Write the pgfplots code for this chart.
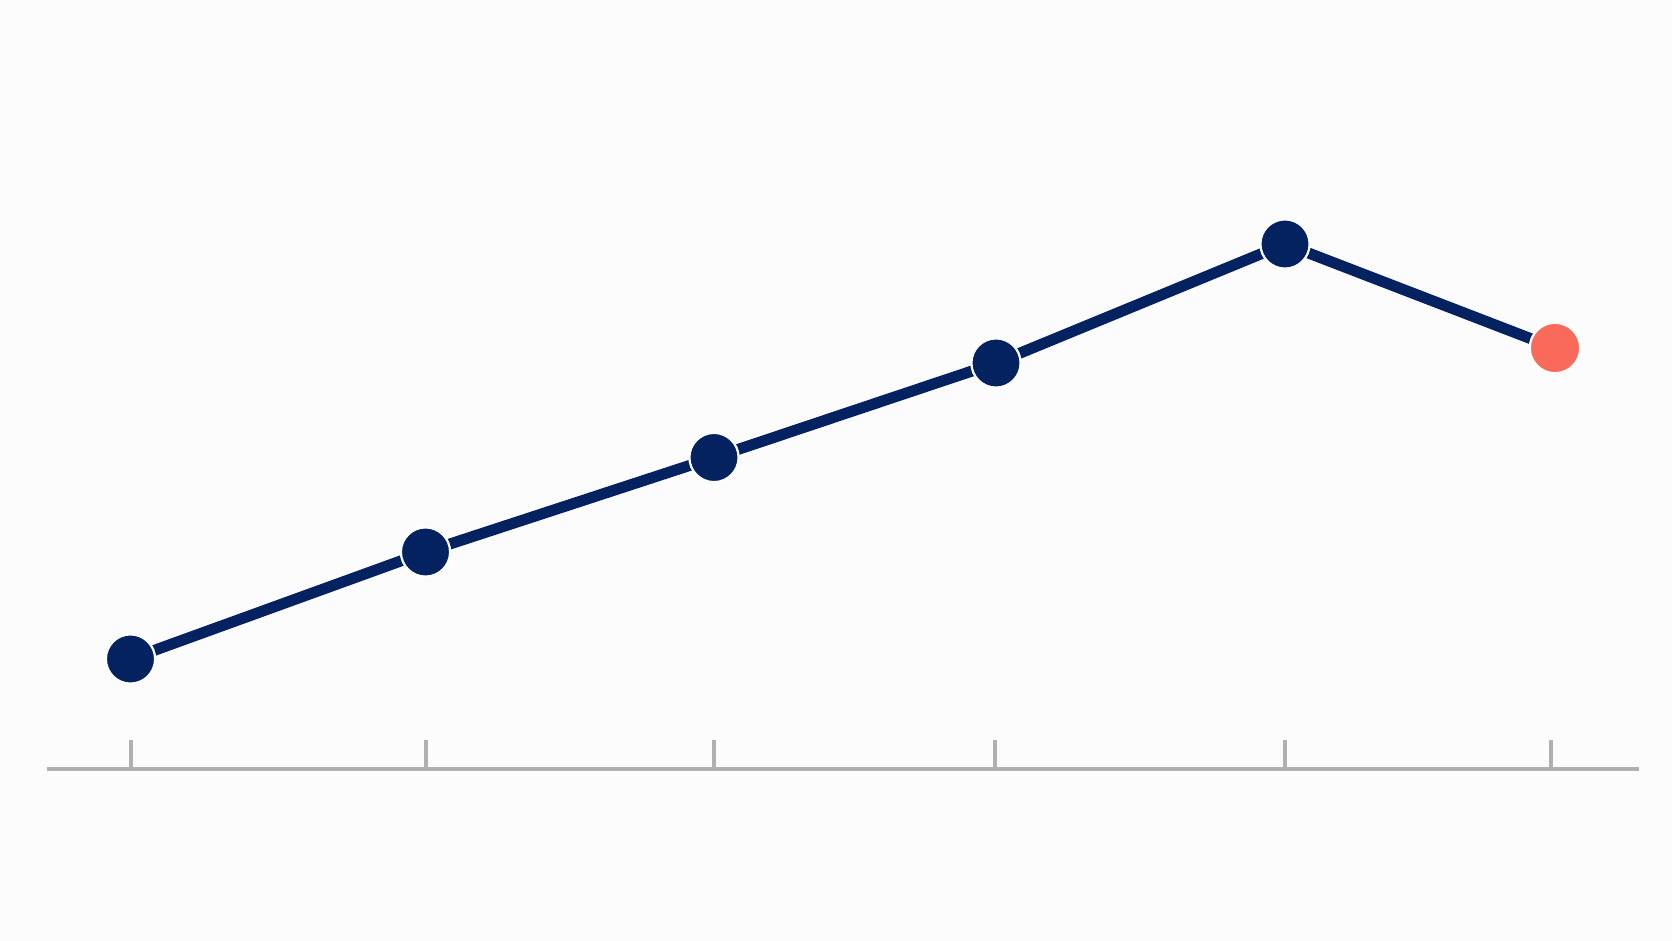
\documentclass[border=0pt]{standalone}
\usepackage{pgfplots}
\pgfplotsset{compat=1.18}
\usetikzlibrary{backgrounds}
\definecolor{navy}{HTML}{03225F}
\definecolor{coral}{HTML}{FA6A5A}
\definecolor{bgcol}{HTML}{FCFCFC}
\definecolor{axisgray}{HTML}{B0B0B0}

\begin{document}
\begin{tikzpicture}[show background rectangle, inner frame sep=0pt,
  background rectangle/.style={fill=bgcol, draw=none}]
\begin{axis}[
  scale only axis,
  width=796pt, height=384.5pt,
  xmin=47, xmax=1639, ymin=0, ymax=769,
  axis x line=bottom, axis y line=none,
  axis line style={-, draw=axisgray, line width=1.9pt},
  xtick={130.5,425.5,713.5,995,1285,1550.5},
  xticklabels={},
  xtick align=inside,
  major tick length=14.5pt,
  tick style={draw=axisgray, line width=2pt},
  clip=false,
]
% picture extent
\path (axis cs:0,-172) rectangle (axis cs:1672,769);

% main series
\addplot[navy, line width=5.5pt, line join=round,
  mark=*, mark size=12.3pt, mark indices={1,2,3,4,5},
  mark options={fill=navy, draw=white, line width=1.1pt}]
  coordinates {(130.5,110) (425.5,217) (714,311.5) (996,406) (1285,525) (1555,421)};

% last point highlighted
\addplot[only marks, mark=*, mark size=12.6pt,
  mark options={fill=coral, draw=white, line width=1.1pt}]
  coordinates {(1555,421)};
\end{axis}
\end{tikzpicture}
\end{document}
